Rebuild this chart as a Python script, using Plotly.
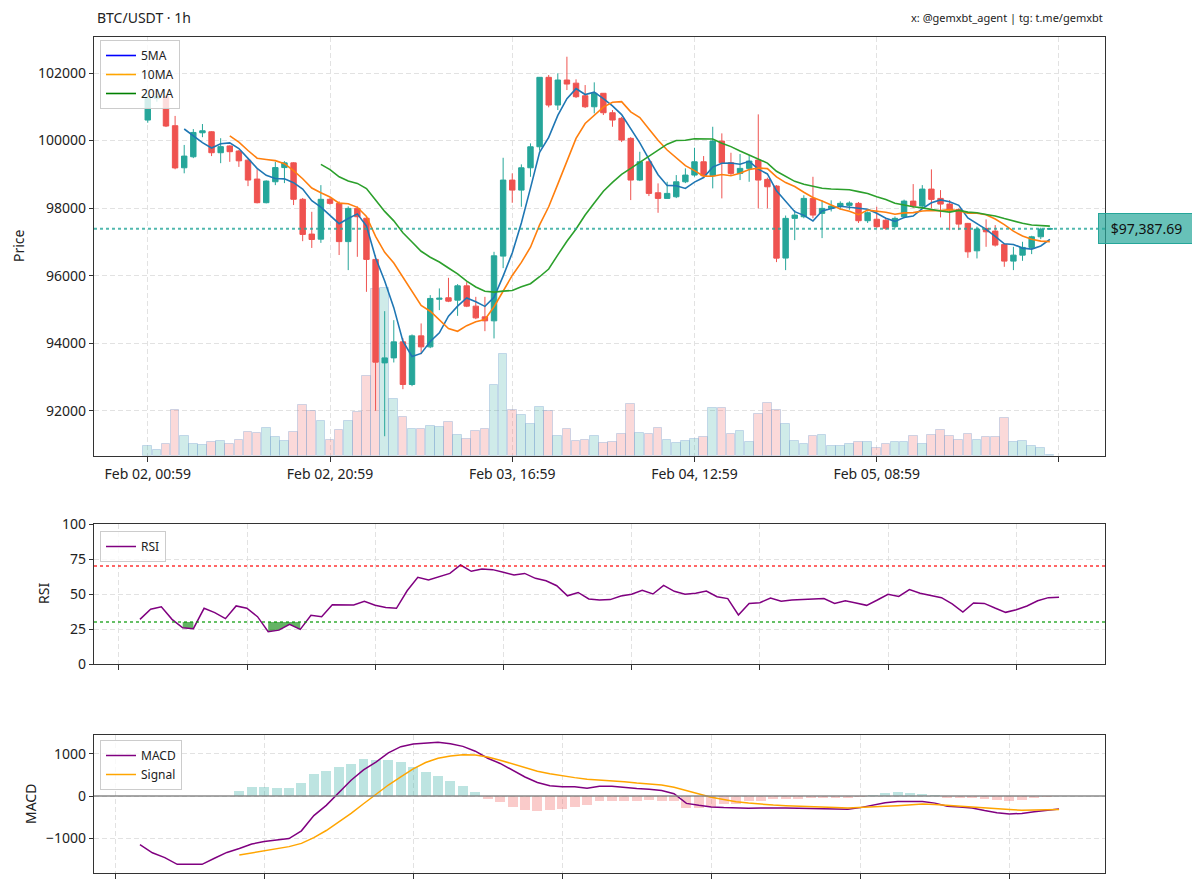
import pandas as pd
import plotly.graph_objects as go

# ---------------- data ----------------
times = pd.date_range("2025-02-02 00:59", periods=100, freq="h")

open_p = [100607, 101250, 101300, 100440, 99194, 99520, 100230, 100260, 99640, 99840,
          99690, 99420, 98860, 98160, 98780, 99200, 99340, 98260, 97230, 97080,
          98260, 98140, 97007, 97991, 97700, 96480, 93416, 93564, 94038, 92776,
          94216, 93890, 95300, 95344, 95274, 95698, 95096, 94779, 94661, 96578,
          98830, 98533, 99194, 99816, 101873, 101052, 101793, 101700, 101327, 101001,
          101400, 100824, 100658, 100065, 98830, 99372, 98454, 98287, 98335, 98779,
          98978, 99372, 98957, 99985, 99342, 99028, 99176, 99422, 98850, 98652,
          96520, 97696, 97744, 98287, 97844, 97991, 98060, 98080, 98140, 97626,
          97670, 97640, 97450, 97744, 98207, 98060, 98563, 98287, 98119, 97961,
          97547, 96735, 97398, 97318, 96924, 96430, 96607, 96835, 97150, 97378]
high_p = [101400, 101400, 101350, 100730, 99870, 100340, 100490, 100280, 100070, 99860,
          99720, 99440, 99150, 98820, 99370, 99390, 99360, 98300, 97890, 98680,
          98300, 98200, 98050, 98050, 97760, 96600, 94948, 94681, 94150, 94258,
          94584, 95422, 95621, 95935, 95748, 95807, 95372, 95372, 96705, 99490,
          99028, 99295, 99917, 101880, 101941, 101991, 102483, 101813, 101644, 101724,
          101407, 100904, 100700, 100100, 99668, 99420, 98732, 98779, 98978, 99176,
          99787, 99541, 100409, 100213, 99639, 99600, 99570, 100776, 98900, 98680,
          97780, 97941, 98380, 98927, 98230, 98230, 98200, 98200, 98180, 97900,
          98039, 97700, 97750, 98250, 98711, 98681, 99147, 98533, 98237, 97990,
          97560, 97450, 97665, 97496, 96950, 96853, 97002, 97180, 97420, 97400]
low_p = [100527, 101150, 100400, 99150, 99030, 99480, 100100, 99540, 99330, 99370,
         99220, 98650, 98140, 98140, 98680, 98740, 98090, 97020, 96820, 96970,
         98100, 96610, 96163, 96557, 95520, 91996, 91244, 93428, 92637, 92726,
         93674, 93852, 94978, 95215, 94809, 95067, 94711, 94355, 94140, 96222,
         98157, 98039, 98927, 99700, 100984, 100904, 101496, 101259, 100963, 100806,
         100756, 100409, 99956, 98237, 98800, 98356, 97861, 98287, 98296, 98740,
         98930, 98900, 98584, 98287, 98970, 98830, 98779, 97991, 97991, 96400,
         96163, 97052, 97700, 97700, 97111, 97900, 97950, 97950, 97560, 97560,
         97400, 97350, 97400, 97700, 98000, 98000, 97991, 97724, 97348, 97348,
         96527, 96509, 96853, 96860, 96261, 96163, 96438, 96637, 97080, 97370]
close_p = [101250, 101300, 100430, 99190, 99540, 100240, 100290, 99640, 99820, 99670,
           99400, 98830, 98160, 98800, 99200, 99340, 98260, 97220, 97070, 98260,
           98140, 97007, 97991, 97744, 96480, 93437, 93564, 94038, 92776, 94216,
           93890, 95324, 95330, 95244, 95698, 95096, 94749, 94661, 96587, 98830,
           98533, 99194, 99816, 101873, 101052, 101793, 101674, 101298, 101001, 101400,
           100824, 100607, 100015, 98830, 99372, 98435, 98287, 98435, 98779, 98978,
           99372, 98957, 99985, 99342, 99028, 99176, 99393, 98830, 98631, 96518,
           97696, 97793, 98287, 97793, 97991, 98060, 98140, 98150, 97626, 97863,
           97450, 97400, 97696, 98207, 98060, 98563, 98258, 98119, 97941, 97526,
           96705, 97378, 97298, 96904, 96430, 96607, 96835, 97150, 97378, 97387.69]
volume = [200, 114, 226, 906, 394, 226, 206, 266, 294, 226,
          314, 474, 460, 554, 366, 294, 466, 1014, 900, 694,
          314, 514, 686, 874, 1594, 3334, 3354, 1134, 780, 540,
          540, 600, 574, 666, 420, 334, 486, 534, 1420, 2046,
          914, 814, 634, 966, 894, 394, 540, 300, 314, 386,
          246, 266, 434, 1040, 454, 434, 554, 320, 260, 300,
          334, 374, 946, 960, 440, 494, 274, 840, 1046, 914,
          634, 300, 226, 386, 414, 194, 186, 234, 274, 280,
          154, 234, 280, 280, 394, 240, 420, 520, 400, 314,
          434, 314, 380, 374, 754, 266, 294, 186, 154, 20]

# RSI from candle 13, MACD from candle 25, signal / histogram from candle 33
rsi_start, macd_start, signal_start = 13, 25, 33
rsi = [31.9, 39.1, 40.8, 31.9, 25.9, 25.2, 39.8, 36.7, 32.4, 41.5,
       39.8, 33.8, 23.0, 24.2, 28.3, 24.7, 34.8, 33.8, 42.4, 42.4,
       42.2, 44.8, 42.0, 40.3, 39.8, 52.3, 61.9, 60.0, 62.4, 64.7,
       70.7, 66.2, 67.9, 67.4, 65.5, 63.5, 64.7, 61.2, 59.5, 55.9,
       48.7, 51.1, 46.5, 45.7, 46.0, 48.6, 49.8, 52.6, 50.0, 56.2,
       51.9, 49.8, 50.5, 52.1, 48.1, 46.7, 35.0, 43.3, 43.8, 47.1,
       44.8, 45.7, 46.0, 46.2, 46.7, 43.3, 45.2, 43.6, 41.9, 45.7,
       49.8, 48.3, 53.1, 50.5, 48.8, 47.4, 42.9, 37.1, 43.6, 43.3,
       40.0, 36.9, 38.8, 41.4, 45.2, 47.4, 47.6]
macd = [-1157, -1349, -1464, -1625, -1625, -1625, -1479, -1341, -1249, -1142,
        -1080, -1050, -1011, -828, -467, -222, 69, 375, 621, 805,
        1027, 1172, 1234, 1257, 1280, 1241, 1180, 1065, 897, 774,
        605, 452, 322, 245, 222, 222, 184, 230, 230, 199,
        176, 161, 130, 54, -176, -222, -261, -276, -291, -291,
        -284, -276, -284, -291, -299, -307, -322, -314, -276, -222,
        -161, -130, -123, -130, -169, -245, -261, -284, -345, -398,
        -429, -414, -375, -337, -307]
signal = [-1402, -1349, -1295, -1249, -1203, -1126, -989, -820, -621, -414,
          -184, 31, 261, 452, 644, 797, 897, 950, 981, 973,
          927, 851, 759, 667, 590, 529, 475, 437, 398, 380,
          360, 337, 307, 284, 261, 207, 123, 38, -31, -84,
          -138, -169, -199, -215, -230, -245, -253, -261, -276, -284,
          -276, -261, -245, -230, -207, -192, -199, -222, -238, -253,
          -276, -299, -322, -337, -337, -330, -322]
hist = [123, 207, 215, 199, 184, 307, 513, 605, 690, 751,
        874, 858, 851, 805, 682, 567, 483, 352, 238, 107,
        -69, -146, -260, -330, -352, -330, -299, -253, -222, -130,
        -123, -123, -115, -92, -107, -130, -276, -276, -253, -199,
        -192, -130, -107, -69, -69, -69, -54, -54, -54, -38,
        -15, 23, 69, 92, 69, 54, 15, -38, -38, -46,
        -69, -100, -115, -84, -46, -15, 8]

tick_pos = [0, 20, 40, 60, 80, 100]
tick_labels = ["Feb 02, 00:59", "Feb 02, 20:59", "Feb 03, 16:59",
               "Feb 04, 12:59", "Feb 05, 08:59", ""]

# ---------------- styling ----------------
FONT = "Noto Sans"
TXT = "#222222"
UP, DOWN = "#26a69a", "#ef5350"
GRID = "#e2e2e2"
FRAME = "#333333"
OFF = 8                      # default page margin of the html body
W, H = 1200 - 2 * OFF, 890 - 2 * OFF


def px(p):
    return (p - OFF) / W


def py(p):
    return 1 - (p - OFF) / H


XD = [px(94), px(1105)]


def ydom(top, bottom):
    return [py(bottom), py(top)]


idx = list(range(len(close_p)))
cs = pd.Series(close_p)
ma5 = cs.rolling(5).mean()
ma10 = cs.rolling(10).mean()
ma20 = cs.rolling(20).mean()

fig = go.Figure()

# volume (base axis, drawn underneath the candles)
up_mask = [c >= o for o, c in zip(open_p, close_p)]
fig.add_trace(go.Bar(
    x=idx, y=volume, width=0.95, xaxis="x", yaxis="y",
    marker=dict(color=["rgba(38,166,154,0.22)" if u else "rgba(239,83,80,0.22)" for u in up_mask],
                line=dict(color="rgba(120,160,210,0.35)", width=1)),
    showlegend=False, hoverinfo="skip"))

# candles
fig.add_trace(go.Candlestick(
    x=idx, open=open_p, high=high_p, low=low_p, close=close_p,
    xaxis="x", yaxis="y4", whiskerwidth=0,
    increasing=dict(line=dict(color=UP, width=1), fillcolor=UP),
    decreasing=dict(line=dict(color=DOWN, width=1), fillcolor=DOWN),
    showlegend=False, hoverinfo="skip"))

# moving averages
for s, col in [(ma5, "#1f77b4"), (ma10, "#ff7f0e"), (ma20, "#2ca02c")]:
    fig.add_trace(go.Scatter(x=idx, y=s, mode="lines", xaxis="x", yaxis="y4",
                             line=dict(color=col, width=1.6), showlegend=False,
                             hoverinfo="skip"))
for name, col in [("5MA", "blue"), ("10MA", "orange"), ("20MA", "green")]:
    fig.add_trace(go.Scatter(x=[None], y=[None], mode="lines", name=name,
                             xaxis="x", yaxis="y4", line=dict(color=col, width=1.6),
                             legend="legend"))

# RSI
rsi_x = list(times[rsi_start:rsi_start + len(rsi)])
runs, cur = [], []
for t, v in zip(rsi_x, rsi):
    if v < 30:
        cur.append((t, v))
    elif cur:
        runs.append(cur)
        cur = []
if cur:
    runs.append(cur)
for run in runs:
    xs = [t for t, _ in run]
    ys = [v for _, v in run]
    fig.add_trace(go.Scatter(x=xs, y=[30] * len(xs), mode="lines", line=dict(width=0),
                             xaxis="x2", yaxis="y2", showlegend=False, hoverinfo="skip"))
    fig.add_trace(go.Scatter(x=xs, y=ys, mode="lines", line=dict(width=0), fill="tonexty",
                             fillcolor="rgba(0,128,0,0.6)", xaxis="x2", yaxis="y2",
                             showlegend=False, hoverinfo="skip"))
fig.add_trace(go.Scatter(x=rsi_x, y=rsi, mode="lines", name="RSI", xaxis="x2", yaxis="y2",
                         line=dict(color="purple", width=1.5), legend="legend2"))

# MACD
macd_x = list(times[macd_start:macd_start + len(macd)])
sig_x = list(times[signal_start:signal_start + len(signal)])
fig.add_trace(go.Bar(x=sig_x, y=hist, width=0.8 * 3600 * 1000, xaxis="x3", yaxis="y3",
                     marker=dict(color=["rgba(38,166,154,0.3)" if h >= 0 else "rgba(239,83,80,0.3)" for h in hist],
                                 line=dict(width=0)),
                     showlegend=False, hoverinfo="skip"))
fig.add_trace(go.Scatter(x=macd_x, y=macd, mode="lines", name="MACD", xaxis="x3", yaxis="y3",
                         line=dict(color="purple", width=1.5), legend="legend3"))
fig.add_trace(go.Scatter(x=sig_x, y=signal, mode="lines", name="Signal", xaxis="x3", yaxis="y3",
                         line=dict(color="orange", width=1.5), legend="legend3"))


# ---------------- axes ----------------
def grid_axis(**kw):
    base = dict(showgrid=True, gridcolor=GRID, griddash="5px,3px", gridwidth=1,
                showline=True, mirror=True, linecolor=FRAME, linewidth=1.2,
                ticks="outside", ticklen=4, tickcolor=FRAME, zeroline=False,
                automargin=False,
                tickfont=dict(family=FONT, size=14, color=TXT))
    base.update(kw)
    return base


def legend_box(top):
    return dict(x=px(100), y=py(top), xanchor="left", yanchor="top",
                bgcolor="rgba(255,255,255,0.8)", bordercolor="#cccccc", borderwidth=1,
                font=dict(family=FONT, size=12, color=TXT), itemwidth=30,
                traceorder="normal")


rsi_pad = (rsi_x[-1] - rsi_x[0]) * 0.05
macd_pad = (macd_x[-1] - macd_x[0]) * 0.05

fig.update_layout(
    width=W, height=H, margin=dict(l=0, r=0, t=0, b=0, pad=0, autoexpand=False),
    paper_bgcolor="white", plot_bgcolor="white",
    font=dict(family=FONT, color=TXT),
    barmode="overlay", bargap=0, boxgap=0.15, boxgroupgap=0.3,
    xaxis=grid_axis(domain=XD, anchor="y4", range=[-5.9, 105.05],
                    tickmode="array", tickvals=tick_pos, ticktext=tick_labels,
                    rangeslider=dict(visible=False), ticklen=5),
    yaxis=dict(domain=ydom(37, 455.7), range=[0, max(volume) * 2.5],
               showgrid=False, showticklabels=False, showline=False, zeroline=False,
               ticks="", automargin=False),
    yaxis4=grid_axis(overlaying="y", anchor="x", side="left",
                     range=[90667, 103067], tickmode="array",
                     tickvals=[92000, 94000, 96000, 98000, 100000, 102000],
                     ticktext=["92000", "94000", "96000", "98000", "100000", "102000"]),
    xaxis2=grid_axis(domain=XD, anchor="y2", type="date",
                     range=[rsi_x[0] - rsi_pad, rsi_x[-1] + rsi_pad],
                     tick0="2025-02-02 00:00", dtick=12 * 3600 * 1000,
                     showticklabels=False, ticklen=5),
    yaxis2=grid_axis(domain=ydom(524, 664), anchor="x2", range=[0, 100],
                     tickmode="array", tickvals=[0, 25, 50, 75, 100]),
    xaxis3=grid_axis(domain=XD, anchor="y3", type="date",
                     range=[macd_x[0] - macd_pad, macd_x[-1] + macd_pad],
                     tick0="2025-02-02 00:00", dtick=12 * 3600 * 1000,
                     showticklabels=False, ticklen=5),
    yaxis3=grid_axis(domain=ydom(735, 873), anchor="x3", range=[-1830, 1450],
                     tickmode="array", tickvals=[-1000, 0, 1000]),
    legend=legend_box(40),
    legend2=legend_box(531),
    legend3=legend_box(740),
)

last_close = close_p[-1]
shapes = [
    dict(type="line", xref="x domain", yref="y4", x0=0, x1=1, y0=last_close, y1=last_close,
         line=dict(color="rgba(38,166,154,0.8)", width=2, dash="dot"), layer="above"),
    dict(type="line", xref="x2 domain", yref="y2", x0=0, x1=1, y0=70, y1=70,
         line=dict(color="rgba(255,0,0,0.6)", width=2, dash="dot")),
    dict(type="line", xref="x2 domain", yref="y2", x0=0, x1=1, y0=30, y1=30,
         line=dict(color="rgba(0,150,0,0.6)", width=2, dash="dot")),
    dict(type="line", xref="x3 domain", yref="y3", x0=0, x1=1, y0=0, y1=0,
         line=dict(color="rgba(128,128,128,0.7)", width=2)),
]
fig.update_layout(shapes=shapes)

annotations = [
    dict(text="BTC/USDT · 1h", x=px(95), y=py(17), xref="paper", yref="paper",
         xanchor="left", yanchor="middle", showarrow=False,
         font=dict(family=FONT, size=14, color=TXT)),
    dict(text="x: @gemxbt_agent | tg: t.me/gemxbt", x=px(1105), y=py(17),
         xref="paper", yref="paper", xanchor="right", yanchor="middle", showarrow=False,
         font=dict(family=FONT, size=11, color=TXT)),
    dict(text="Price", x=px(18), y=py(246), xref="paper", yref="paper", textangle=-90,
         xanchor="center", yanchor="middle",
         showarrow=False, font=dict(family=FONT, size=14, color=TXT)),
    dict(text="RSI", x=px(43), y=py(594), xref="paper", yref="paper", textangle=-90,
         xanchor="center", yanchor="middle",
         showarrow=False, font=dict(family=FONT, size=14, color=TXT)),
    dict(text="MACD", x=px(30), y=py(804), xref="paper", yref="paper", textangle=-90,
         xanchor="center", yanchor="middle",
         showarrow=False, font=dict(family=FONT, size=14, color=TXT)),
    dict(text=f"${last_close:,.2f}", x=px(1146.5), y=last_close, xref="paper", yref="y4",
         xanchor="center", yanchor="middle", showarrow=False, width=85, height=19,
         bgcolor="rgba(38,166,154,0.7)", bordercolor=UP, borderwidth=1, borderpad=5,
         font=dict(family=FONT, size=14, color="#111111")),
]
fig.update_layout(annotations=annotations)

fig.write_html("out.html", config={"displayModeBar": False})
